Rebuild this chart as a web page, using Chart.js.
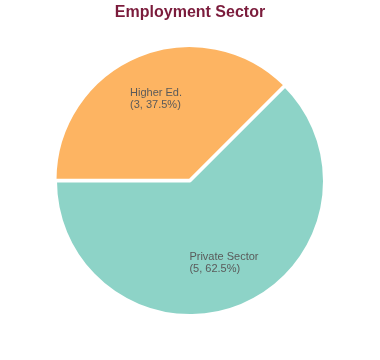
<!DOCTYPE html>
<html>
<head>
<meta charset="utf-8">
<script src="https://cdn.jsdelivr.net/npm/chart.js@4/dist/chart.umd.min.js"></script>
<style>
html,body{margin:0;padding:0;background:#fff;}
#wrap{width:380px;height:360px;}
</style>
</head>
<body>
<div id="wrap"><canvas id="c" width="380" height="360"></canvas></div>
<script>
const categories = ["Higher Ed.", "Private Sector"];
const counts = [3, 5];
const colors = ["#FDB462", "#8DD3C7"];
const offsets = [3, 0];

const total = counts.reduce((a, b) => a + b, 0);

const labelPlugin = {
  id: 'sliceLabels',
  afterDatasetsDraw(chart) {
    const ctx = chart.ctx;
    const meta = chart.getDatasetMeta(0);
    ctx.save();
    ctx.font = '11px "Liberation Sans", Arial, sans-serif';
    ctx.fillStyle = '#5a5a5a';
    ctx.textBaseline = 'middle';
    ctx.textAlign = 'left';
    meta.data.forEach((arc, i) => {
      const p = arc.getProps(['x', 'y', 'startAngle', 'endAngle', 'outerRadius'], true);
      const mid = (p.startAngle + p.endAngle) / 2;
      const r = p.outerRadius * 0.66;
      const cx = p.x + Math.cos(mid) * r;
      const cy = p.y + Math.sin(mid) * r;
      const pct = (counts[i] / total * 100).toFixed(1);
      const lines = [categories[i], "(" + counts[i] + ", " + pct + "%)"];
      const w = Math.max(...lines.map(l => ctx.measureText(l).width));
      const lh = 12.5;
      const x0 = cx - w / 2;
      lines.forEach((l, k) => {
        ctx.fillText(l, x0, cy + (k - (lines.length - 1) / 2) * lh);
      });
    });
    ctx.restore();
  }
};

new Chart(document.getElementById('c'), {
  type: 'pie',
  data: {
    labels: categories,
    datasets: [{
      data: counts,
      backgroundColor: colors,
      borderColor: '#ffffff',
      borderWidth: 3,
      offset: offsets
    }]
  },
  options: {
    responsive: false,
    animation: false,
    rotation: -90,
    layout: { padding: { top: 0, bottom: 41.5, left: 0, right: 0 } },
    plugins: {
      legend: { display: false },
      tooltip: { enabled: false },
      title: {
        display: true,
        text: 'Employment Sector',
        color: '#7B1C3C',
        font: { family: '"Liberation Sans", Arial, sans-serif', size: 16, weight: 'bold' },
        padding: { top: 3, bottom: 21.3 }
      }
    }
  },
  plugins: [labelPlugin]
});
</script>
</body>
</html>
